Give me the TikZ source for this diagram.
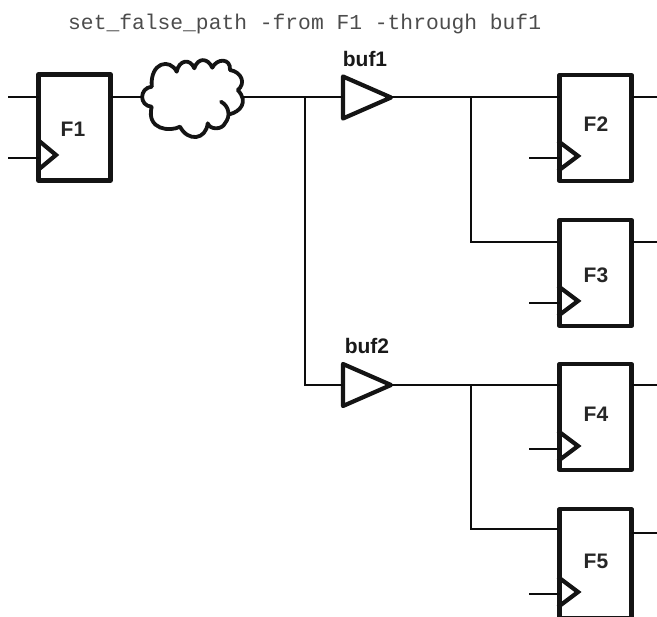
\documentclass[tikz,border=0pt]{standalone}
\usepackage{fontspec}
\setmainfont{Liberation Sans}
\newfontfamily\codefont{Liberation Mono}
\usetikzlibrary{shapes.geometric}
\tikzset{
  x=1pt,y=-1pt,
  wire/.style={line width=2pt,black!95},
  heavy/.style={line width=4.2pt,black!92,line join=round},
  ffbox/.style={draw,heavy,rectangle,inner sep=0,outer sep=0,minimum width=72pt,minimum height=#1},
  ffbox/.default=106pt,
  ffname/.style={font=\fontsize{21}{21}\selectfont\bfseries,inner sep=0,text=black!85},
  bufname/.style={font=\fontsize{21}{21}\selectfont\bfseries,inner sep=0,text=black!90},
  buffer/.style={draw,heavy,isosceles triangle,isosceles triangle stretches=true,shape border rotate=0,minimum width=42pt,minimum height=48pt,inner sep=0,outer sep=0,anchor=lower side},
  ck/.style={heavy,line join=miter},
  cloudline/.style={line width=3.8pt,black!92,line join=round,line cap=round}
}
\begin{document}
\begin{tikzpicture}
\useasboundingbox (0,0) rectangle (657,617);
\clip (0,0) rectangle (657,617);

\node[font=\fontsize{21.3}{22}\codefont,text=black!70,inner sep=0,anchor=base west] (cmd) at (68,29.5) {set\_false\_path -from F1 -through buf1};

% flip-flops
\node[ffbox] (F1) at (74.5,127.5) {};
\node[ffbox] (F2) at (595.5,128) {};
\node[ffbox] (F3) at (595.5,273) {};
\node[ffbox] (F4) at (595.5,417) {};
\node[ffbox=108.5pt] (F5) at (595.5,563.5) {};
\node[ffname] (lF1) at (73,129) {F1};
\node[ffname] (lF2) at (596,124) {F2};
\node[ffname] (lF3) at (596,275) {F3};
\node[ffname] (lF4) at (596,414) {F4};
\node[ffname] (lF5) at (596,561) {F5};

% clock triangles
\draw[ck] (38,140) -- (56,155) -- (38,170);
\draw[ck] (558,141) -- (578,156) -- (558,171);
\draw[ck] (558,286) -- (578,301) -- (558,316);
\draw[ck] (558,431) -- (578,446) -- (558,461);
\draw[ck] (558,577) -- (578,592) -- (558,607);

% free ends
\coordinate (F1d) at (8,97);
\coordinate (F1c) at (8,158);
\coordinate (F2c) at (529,158);
\coordinate (F3c) at (529,303);
\coordinate (F4c) at (529,449);
\coordinate (F5c) at (529,594);
\coordinate (F2o) at (657,97);
\coordinate (F3o) at (657,242);
\coordinate (F4o) at (657,385);
\coordinate (F5o) at (657,533);
\coordinate (F3d) at (558,242);
\coordinate (F5d) at (558,529);
\coordinate (j1) at (305,97);
\coordinate (j2) at (305,385);
\coordinate (j3) at (471,97);
\coordinate (j4) at (471,385);
\coordinate (j5) at (471,242);
\coordinate (j6) at (471,529);
\coordinate (cl) at (143,97);
\coordinate (cr) at (243,97);

% buffers
\node[buffer] (buf1) at (343,97.5) {};
\node[buffer] (buf2) at (343,385) {};
\node[bufname] (lb1) at (365,59) {buf1};
\node[bufname] (lb2) at (367,346) {buf2};

% cloud
\draw[cloudline]
  (151.7,86.7) .. controls (150,62) and (170,58) .. (176.7,71.7)
  .. controls (179,60) and (190,58) .. (194.3,68.3)
  .. controls (198,57) and (208,58) .. (212.3,67.7)
  .. controls (217,58) and (231,58) .. (230,70)
  .. controls (242,72) and (246,84) .. (237.7,90)
  .. controls (249,102) and (240,112) .. (229.3,114.3);
\draw[cloudline]
  (221,101.7) .. controls (229,106) and (231,116) .. (225,123.3)
  .. controls (222,130) and (210,130) .. (207.7,123.3)
  .. controls (206,140) and (188,142) .. (180,126.7)
  .. controls (170,132) and (146,130) .. (151.7,106.7)
  .. controls (139,106) and (139,88) .. (151.7,86.7);

% wires
\draw[wire] (F1d) -- (F1d-|F1.west);
\draw[wire] (F1c) -- (F1c-|F1.west);
\draw[wire] (F1d-|F1.east) -- (cl);
\draw[wire] (cr) -- (cr-|buf1.lower side);
\draw[wire] (j1) -- (j2) -- (j2-|buf2.lower side);
\draw[wire] (buf1.apex) -- (buf1.apex-|F2.west);
\draw[wire] (j3) -- (j5) -- (F3d);
\draw[wire] (buf2.apex) -- (buf2.apex-|F4.west);
\draw[wire] (j4) -- (j6) -- (F5d);
\draw[wire] (F2c) -- (F2c-|F2.west);
\draw[wire] (F3c) -- (F3c-|F3.west);
\draw[wire] (F4c) -- (F4c-|F4.west);
\draw[wire] (F5c) -- (F5c-|F5.west);
\draw[wire] (F2o-|F2.east) -- (F2o);
\draw[wire] (F3o-|F3.east) -- (F3o);
\draw[wire] (F4o-|F4.east) -- (F4o);
\draw[wire] (F5o-|F5.east) -- (F5o);
\end{tikzpicture}
\end{document}
